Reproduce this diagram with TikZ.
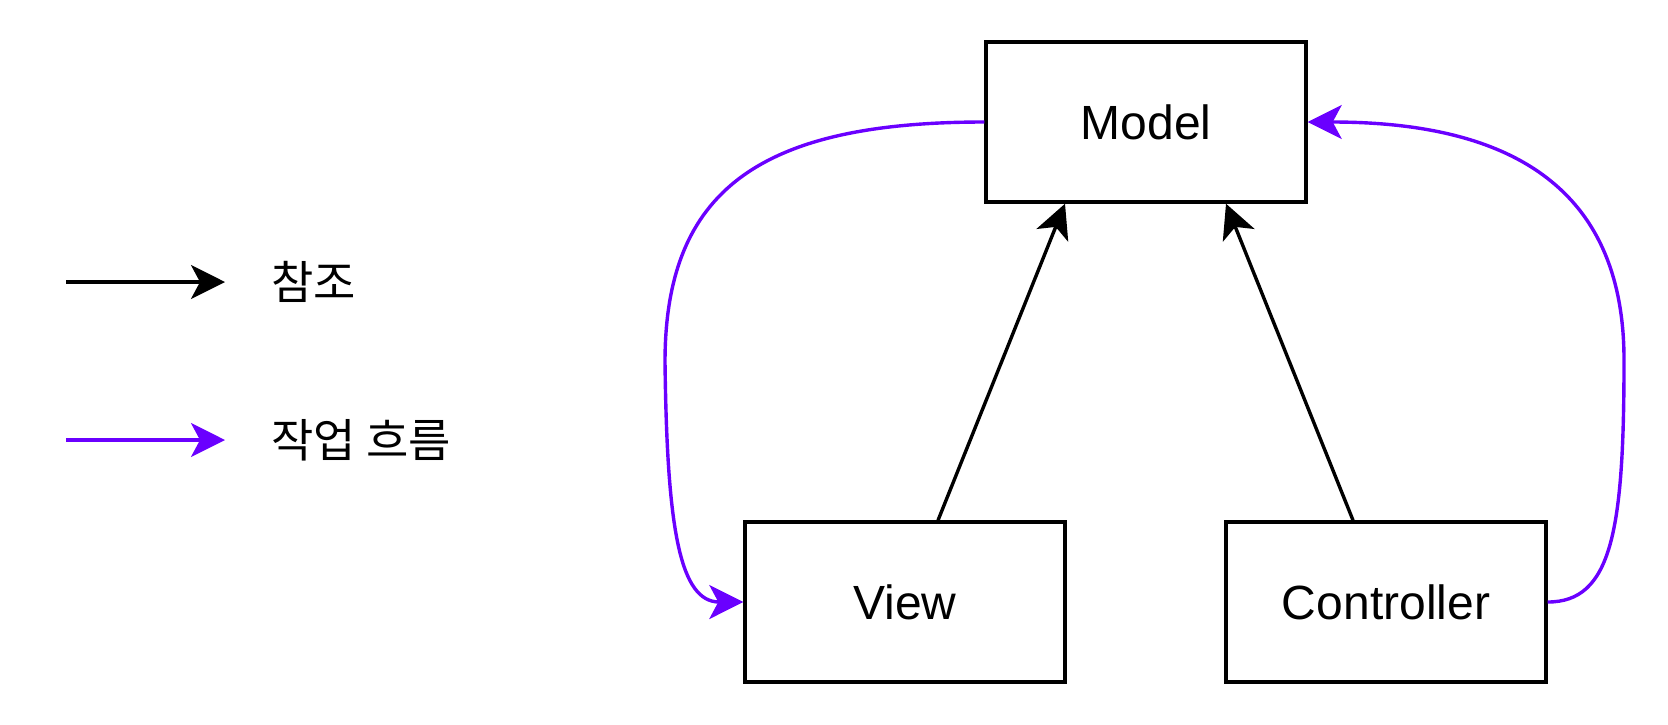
\documentclass[tikz,border=0pt]{standalone}
\usepackage{fontspec}
\setmainfont{Liberation Sans}
\newfontfamily\kofont{Noto Sans CJK KR}
\usetikzlibrary{arrows.meta}
\definecolor{flow}{HTML}{6A00FF}

\begin{document}
\begin{tikzpicture}[
	x=0.5pt,y=-0.5pt,
	box/.style={draw,line width=1.7pt,minimum width=160pt,minimum height=80pt,inner sep=0pt,font=\fontsize{24}{28}\selectfont},
	lbl/.style={anchor=west,inner sep=0pt,font=\kofont\fontsize{23}{27}\selectfont},
	tip/.style={-{Stealth[length=17pt,width=17pt,inset=4.5pt]}},
	ref/.style={tip,line width=1.7pt,black},
	work/.style={tip,line width=1.7pt,flow}
	]
					
					% Obszar
					\useasboundingbox (0,0) rectangle (1668,724);
					
					% Legenda
					\coordinate (r0) at (66,282);
					\coordinate (r1) at (225,282);
					\coordinate (w0) at (66,440);
					\coordinate (w1) at (225,440);
					\draw[ref] (r0) -- (r1);
					\draw[work] (w0) -- (w1);
					\node[lbl] (refl) at (271,282) {참조};
					\node[lbl] (workl) at (271,440) {작업 흐름};
					
					% Bloki
					\node[box] (model) at (1146,122) {Model};
					\node[box] (view) at (905,602) {View};
					\node[box] (ctrl) at (1386,602) {Controller};
					
					% Referencje
					\draw[ref] ([xshift=16.5pt]view.north) -- ([xshift=-40.5pt]model.south);
					\draw[ref] ([xshift=-16.5pt]ctrl.north) -- ([xshift=40pt]model.south);
					
					% Przeplyw
					\draw[
					work
					]
					(model.west) .. controls (760,122) and (665,190) .. (665,362)
					.. controls (667,530) and (680,602) .. (view.west);
					
					\draw[
					work
					]
					(ctrl.east) .. controls (1612,602) and (1624,530) .. (1624,360)
					.. controls (1624,180) and (1500,122) .. (model.east);
					
				\end{tikzpicture}
\end{document}
